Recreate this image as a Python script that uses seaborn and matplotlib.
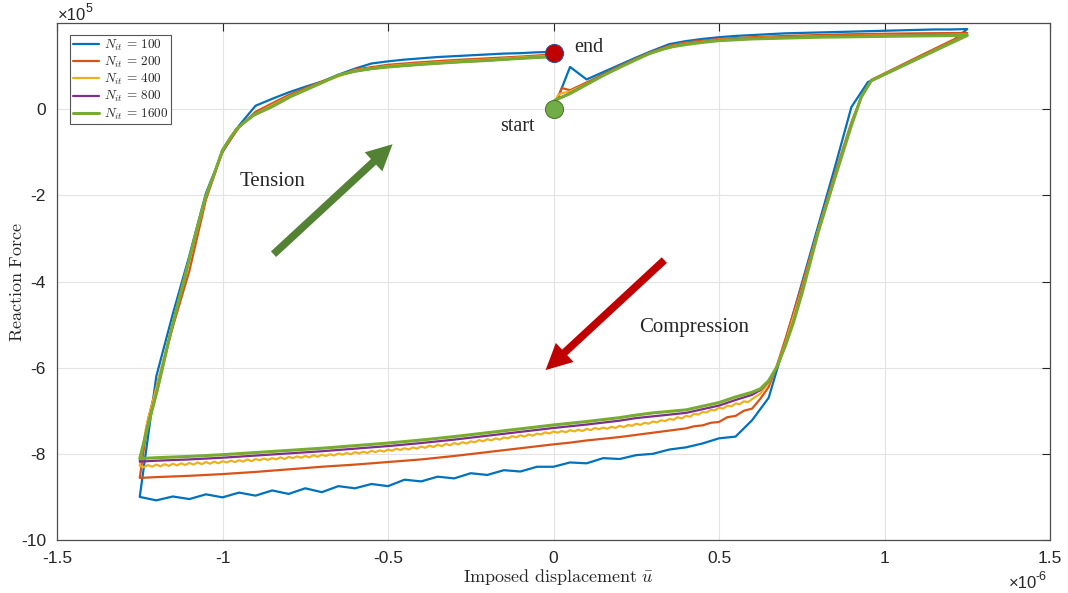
import matplotlib
matplotlib.use("Agg")
import matplotlib.pyplot as plt
from matplotlib.patches import FancyArrowPatch
import pandas as pd
import seaborn as sns

# Imposed displacement in units of 1e-6, reaction force in units of 1e5.
# Each path: loading 0 -> 1.25, unloading 1.25 -> -1.25, reloading -1.25 -> 0.

n100 = [
    (0.00, 0.00), (0.05, 0.98), (0.10, 0.69), (0.15, 0.86), (0.20, 1.03), (0.25, 1.20),
    (0.30, 1.36), (0.35, 1.51), (0.40, 1.58), (0.45, 1.63), (0.50, 1.67), (0.55, 1.70),
    (0.60, 1.72), (0.65, 1.74), (0.70, 1.76), (0.75, 1.77), (0.80, 1.78), (0.85, 1.79),
    (0.90, 1.80), (0.95, 1.81), (1.00, 1.82), (1.05, 1.83), (1.10, 1.84), (1.15, 1.85),
    (1.20, 1.85), (1.25, 1.86),
    (1.20, 1.54), (1.15, 1.36), (1.10, 1.17), (1.05, 0.99), (1.00, 0.81), (0.95, 0.63),
    (0.90, 0.05), (0.85, -1.35), (0.80, -2.70), (0.75, -4.05), (0.70, -5.40), (0.65, -6.70),
    (0.60, -7.22), (0.55, -7.60), (0.50, -7.64), (0.45, -7.76), (0.40, -7.85), (0.35, -7.90),
    (0.30, -8.00), (0.25, -8.03), (0.20, -8.12), (0.15, -8.10), (0.10, -8.22), (0.05, -8.20),
    (0.00, -8.30), (-0.05, -8.30), (-0.10, -8.41), (-0.15, -8.38), (-0.20, -8.49), (-0.25, -8.45),
    (-0.30, -8.57), (-0.35, -8.53), (-0.40, -8.64), (-0.45, -8.60), (-0.50, -8.75), (-0.55, -8.70),
    (-0.60, -8.80), (-0.65, -8.75), (-0.70, -8.89), (-0.75, -8.80), (-0.80, -8.93), (-0.85, -8.85),
    (-0.90, -8.97), (-0.95, -8.90), (-1.00, -9.01), (-1.05, -8.94), (-1.10, -9.05), (-1.15, -8.99),
    (-1.20, -9.08), (-1.25, -9.00),
    (-1.20, -6.20), (-1.15, -4.75), (-1.10, -3.40), (-1.05, -1.95), (-1.00, -1.00), (-0.95, -0.38),
    (-0.90, 0.08), (-0.85, 0.24), (-0.80, 0.39), (-0.75, 0.52), (-0.70, 0.64), (-0.65, 0.80),
    (-0.60, 0.94), (-0.55, 1.06), (-0.50, 1.11), (-0.45, 1.15), (-0.40, 1.18), (-0.35, 1.21),
    (-0.30, 1.23), (-0.25, 1.25), (-0.20, 1.27), (-0.15, 1.29), (-0.10, 1.30), (-0.05, 1.32),
    (0.00, 1.33),
]

n200 = [
    (0.000, 0.00), (0.025, 0.49), (0.050, 0.44), (0.10, 0.62), (0.15, 0.81), (0.20, 1.00),
    (0.25, 1.18), (0.30, 1.34), (0.35, 1.47), (0.40, 1.55), (0.50, 1.63), (0.60, 1.67),
    (0.70, 1.70), (0.80, 1.72), (0.90, 1.74), (1.00, 1.75), (1.10, 1.76), (1.25, 1.77),
    (1.10, 1.21), (0.96, 0.68), (0.93, 0.27), (0.90, -0.30), (0.85, -1.50), (0.80, -2.78),
    (0.75, -4.10), (0.70, -5.35), (0.675, -5.95), (0.65, -6.45), (0.625, -6.72), (0.60, -6.95),
    (0.575, -7.00), (0.55, -7.12), (0.525, -7.15), (0.50, -7.26), (0.475, -7.28), (0.45, -7.34),
    (0.425, -7.36), (0.40, -7.41), (0.35, -7.46), (0.30, -7.51), (0.25, -7.56), (0.20, -7.61),
    (0.15, -7.65), (0.10, -7.69), (0.05, -7.74), (0.00, -7.78), (-0.10, -7.87), (-0.20, -7.96),
    (-0.30, -8.05), (-0.40, -8.13), (-0.50, -8.19), (-0.60, -8.25), (-0.70, -8.30), (-0.80, -8.36),
    (-0.90, -8.42), (-1.00, -8.47), (-1.10, -8.51), (-1.20, -8.54), (-1.25, -8.56),
    (-1.225, -7.20), (-1.20, -6.45), (-1.15, -5.05), (-1.10, -3.75), (-1.05, -2.10), (-1.00, -0.98),
    (-0.95, -0.42), (-0.90, -0.06), (-0.80, 0.33), (-0.70, 0.64), (-0.60, 0.92), (-0.50, 1.03),
    (-0.40, 1.09), (-0.30, 1.14), (-0.20, 1.18), (-0.10, 1.22), (0.00, 1.27),
]

n400_load = [
    (0.0, 0.00), (0.0125, 0.32), (0.025, 0.37), (0.05, 0.41), (0.10, 0.59), (0.15, 0.80),
    (0.20, 0.99), (0.25, 1.17), (0.30, 1.32), (0.35, 1.45), (0.40, 1.52), (0.50, 1.61),
    (0.60, 1.65), (0.70, 1.67), (0.80, 1.69), (0.90, 1.70), (1.00, 1.71), (1.10, 1.72),
    (1.25, 1.73),
    (1.10, 1.18), (0.96, 0.67), (0.93, 0.28), (0.90, -0.33), (0.85, -1.55), (0.80, -2.80),
    (0.75, -4.20), (0.70, -5.45), (0.675, -5.97), (0.65, -6.35), (0.625, -6.60),
]
# plateau of the unloading branch, one entry per load step
n400_plateau = [
    (0.6000, -6.73), (0.5875, -6.80), (0.5750, -6.78), (0.5625, -6.85), (0.5500, -6.83),
    (0.5375, -6.90), (0.5250, -6.88), (0.5125, -6.95), (0.5000, -6.93),
    (0.4875, -6.99), (0.4750, -6.98), (0.4625, -7.04), (0.4500, -7.03),
    (0.4375, -7.09), (0.4250, -7.07), (0.4125, -7.14), (0.4000, -7.12),
    (0.3875, -7.18), (0.3750, -7.15), (0.3625, -7.21), (0.3500, -7.19),
    (0.3375, -7.24), (0.3250, -7.22), (0.3125, -7.27), (0.3000, -7.25),
    (0.2875, -7.30), (0.2750, -7.28), (0.2625, -7.33), (0.2500, -7.30),
    (0.2375, -7.35), (0.2250, -7.33), (0.2125, -7.38), (0.2000, -7.35),
    (0.1875, -7.40), (0.1750, -7.37), (0.1625, -7.42), (0.1500, -7.39),
    (0.1375, -7.43), (0.1250, -7.40), (0.1125, -7.45), (0.1000, -7.42),
    (0.0875, -7.47), (0.0750, -7.44), (0.0625, -7.48), (0.0500, -7.45),
    (0.0375, -7.50), (0.0250, -7.47), (0.0125, -7.51), (0.0000, -7.48),
    (-0.0125, -7.53), (-0.0250, -7.50), (-0.0375, -7.55), (-0.0500, -7.53),
    (-0.0625, -7.58), (-0.0750, -7.55), (-0.0875, -7.60), (-0.1000, -7.57),
    (-0.1125, -7.62), (-0.1250, -7.59), (-0.1375, -7.64), (-0.1500, -7.62),
    (-0.1625, -7.67), (-0.1750, -7.64), (-0.1875, -7.69), (-0.2000, -7.66),
    (-0.2125, -7.71), (-0.2250, -7.68), (-0.2375, -7.73), (-0.2500, -7.71),
    (-0.2625, -7.76), (-0.2750, -7.73), (-0.2875, -7.78), (-0.3000, -7.75),
    (-0.3125, -7.80), (-0.3250, -7.77), (-0.3375, -7.82), (-0.3500, -7.79),
    (-0.3625, -7.84), (-0.3750, -7.81), (-0.3875, -7.86), (-0.4000, -7.83),
    (-0.4125, -7.88), (-0.4250, -7.85), (-0.4375, -7.90), (-0.4500, -7.87),
    (-0.4625, -7.91), (-0.4750, -7.88), (-0.4875, -7.93), (-0.5000, -7.90),
    (-0.5125, -7.95), (-0.5250, -7.92), (-0.5375, -7.96), (-0.5500, -7.93),
    (-0.5625, -7.98), (-0.5750, -7.95), (-0.5875, -7.99), (-0.6000, -7.96),
    (-0.6125, -8.01), (-0.6250, -7.98), (-0.6375, -8.02), (-0.6500, -7.99),
    (-0.6625, -8.04), (-0.6750, -8.01), (-0.6875, -8.05), (-0.7000, -8.02),
    (-0.7125, -8.07), (-0.7250, -8.03), (-0.7375, -8.08), (-0.7500, -8.05),
    (-0.7625, -8.09), (-0.7750, -8.06), (-0.7875, -8.10), (-0.8000, -8.07),
    (-0.8125, -8.12), (-0.8250, -8.08), (-0.8375, -8.13), (-0.8500, -8.10),
    (-0.8625, -8.14), (-0.8750, -8.11), (-0.8875, -8.15), (-0.9000, -8.12),
    (-0.9125, -8.17), (-0.9250, -8.13), (-0.9375, -8.18), (-0.9500, -8.15),
    (-0.9625, -8.19), (-0.9750, -8.16), (-0.9875, -8.20), (-1.0000, -8.17),
    (-1.0125, -8.22), (-1.0250, -8.18), (-1.0375, -8.23), (-1.0500, -8.19),
    (-1.0625, -8.24), (-1.0750, -8.20), (-1.0875, -8.25), (-1.1000, -8.21),
    (-1.1125, -8.26), (-1.1250, -8.22), (-1.1375, -8.27), (-1.1500, -8.23),
    (-1.1625, -8.28), (-1.1750, -8.24), (-1.1875, -8.29), (-1.2000, -8.25),
    (-1.2125, -8.30), (-1.2250, -8.26), (-1.2375, -8.31), (-1.2500, -8.28),
]
n400_reload = [
    (-1.230, -7.35), (-1.20, -6.48), (-1.16, -5.25), (-1.12, -4.05), (-1.08, -2.90),
    (-1.05, -2.03), (-1.00, -0.96), (-0.96, -0.47), (-0.90, -0.11), (-0.80, 0.29),
    (-0.70, 0.62), (-0.60, 0.90), (-0.50, 1.00), (-0.40, 1.06), (-0.30, 1.11),
    (-0.20, 1.15), (-0.10, 1.20), (0.00, 1.24),
]
n400 = n400_load + n400_plateau + n400_reload

n800 = [
    (0.0, 0.00), (0.006, 0.22), (0.05, 0.37), (0.10, 0.58), (0.15, 0.80), (0.20, 0.99),
    (0.25, 1.17), (0.30, 1.32), (0.35, 1.44), (0.40, 1.51), (0.50, 1.60), (0.60, 1.64),
    (0.70, 1.66), (0.80, 1.68), (0.90, 1.69), (1.00, 1.70), (1.10, 1.71), (1.25, 1.72),
    (1.10, 1.17), (0.96, 0.66), (0.93, 0.29), (0.90, -0.36), (0.85, -1.58), (0.80, -2.83),
    (0.75, -4.25), (0.725, -4.93), (0.70, -5.50), (0.675, -5.98), (0.65, -6.32), (0.625, -6.52),
    (0.60, -6.63), (0.55, -6.75), (0.50, -6.88), (0.40, -7.05), (0.30, -7.13), (0.25, -7.17),
    (0.20, -7.23), (0.10, -7.32), (0.00, -7.40), (-0.10, -7.49), (-0.20, -7.58), (-0.30, -7.67),
    (-0.40, -7.75), (-0.50, -7.82), (-0.60, -7.88), (-0.70, -7.94), (-0.80, -7.99), (-0.90, -8.04),
    (-1.00, -8.09), (-1.10, -8.13), (-1.20, -8.16), (-1.25, -8.18),
    (-1.228, -7.40), (-1.197, -6.52), (-1.157, -5.20), (-1.117, -4.00), (-1.081, -2.88),
    (-1.051, -2.03), (-1.025, -1.50), (-1.00, -0.95), (-0.975, -0.65), (-0.956, -0.45),
    (-0.93, -0.28), (-0.906, -0.14), (-0.85, 0.06), (-0.795, 0.29), (-0.704, 0.60),
    (-0.65, 0.79), (-0.60, 0.88), (-0.55, 0.94), (-0.50, 0.98), (-0.40, 1.04), (-0.30, 1.09),
    (-0.20, 1.13), (-0.10, 1.18), (0.00, 1.22),
]

n1600 = [
    (0.0, 0.00), (0.003, 0.20), (0.05, 0.36), (0.10, 0.57), (0.15, 0.78), (0.20, 0.97),
    (0.25, 1.15), (0.29, 1.29), (0.33, 1.39), (0.36, 1.45), (0.40, 1.50), (0.45, 1.55),
    (0.50, 1.59), (0.60, 1.63), (0.70, 1.65), (0.80, 1.67), (0.90, 1.68), (1.00, 1.69),
    (1.10, 1.70), (1.25, 1.71),
    (1.10, 1.17), (0.96, 0.66), (0.93, 0.29), (0.90, -0.38), (0.85, -1.60), (0.80, -2.85),
    (0.75, -4.30), (0.725, -4.95), (0.70, -5.50), (0.675, -5.98), (0.65, -6.30), (0.625, -6.49),
    (0.60, -6.57), (0.55, -6.68), (0.50, -6.81), (0.40, -6.98), (0.30, -7.05), (0.25, -7.10),
    (0.20, -7.16), (0.10, -7.25), (0.00, -7.33), (-0.10, -7.42), (-0.20, -7.51), (-0.30, -7.60),
    (-0.40, -7.68), (-0.50, -7.75), (-0.60, -7.81), (-0.70, -7.87), (-0.80, -7.92), (-0.90, -7.97),
    (-1.00, -8.02), (-1.10, -8.06), (-1.20, -8.09), (-1.25, -8.11),
    (-1.227, -7.41), (-1.197, -6.52), (-1.157, -5.20), (-1.117, -4.00), (-1.081, -2.88),
    (-1.051, -2.03), (-1.025, -1.50), (-1.00, -0.95), (-0.975, -0.65), (-0.956, -0.45),
    (-0.93, -0.28), (-0.906, -0.14), (-0.85, 0.06), (-0.795, 0.29), (-0.704, 0.60),
    (-0.65, 0.79), (-0.60, 0.88), (-0.55, 0.94), (-0.50, 0.98), (-0.40, 1.04), (-0.30, 1.09),
    (-0.20, 1.13), (-0.10, 1.18), (0.00, 1.22),
]

series = [n100, n200, n400, n800, n1600]
iterations = [100, 200, 400, 800, 1600]
colors = ["#0072BD", "#D95319", "#EDB120", "#7E2F8E", "#77AC30"]
widths = [1.6, 1.6, 1.6, 1.6, 2.2]

start_point = (0.0, 0.0)
end_point = (0.0, 1.31)

x_ticks = [-1.5, -1.0, -0.5, 0.0, 0.5, 1.0, 1.5]
x_tick_labels = ["-1.5", "-1", "-0.5", "0", "0.5", "1", "1.5"]
y_ticks = [-10, -8, -6, -4, -2, 0]
y_tick_labels = ["-10", "-8", "-6", "-4", "-2", "0"]

sns.set_theme(style="white")
plt.rcParams["font.family"] = ["Liberation Sans", "DejaVu Sans"]
plt.rcParams["mathtext.fontset"] = "cm"
plt.rcParams["axes.unicode_minus"] = False

fig = plt.figure(figsize=(10.68, 5.93), dpi=100)
fig.patch.set_facecolor("white")
ax = fig.add_axes([57 / 1068, 53 / 593, 993 / 1068, 517 / 593])

for pts, n, col, lw in zip(series, iterations, colors, widths):
    df = pd.DataFrame(pts, columns=["u", "F"])
    sns.lineplot(data=df, x="u", y="F", sort=False, estimator=None, color=col,
                 linewidth=lw, label=rf"$N_{{it}}\, =\, {n}$", ax=ax)

ax.set_xlim(-1.5, 1.5)
ax.set_ylim(-10, 2.0)
ax.set_xticks(x_ticks)
ax.set_xticklabels(x_tick_labels)
ax.set_yticks(y_ticks)
ax.set_yticklabels(y_tick_labels)
ax.grid(True, color="#e3e3e3", linewidth=0.8)
ax.set_axisbelow(True)
ax.tick_params(direction="in", length=6, width=0.8, top=True, right=True,
               labelsize=12.5, colors="#262626", pad=8)
for s in ax.spines.values():
    s.set_color("#4d4d4d")
    s.set_linewidth(0.9)

ax.set_xlabel(r"$\mathrm{Imposed\ displacement}\ \bar{u}$", fontsize=13, color="#262626")
ax.set_ylabel(r"$\mathrm{Reaction\ Force}$", fontsize=13, color="#262626")
ax.xaxis.set_label_coords(0.505, -0.053)
ax.yaxis.set_label_coords(-0.031, 0.5)

fig.text(58 / 1068, 1 - 15 / 593, "×10", fontsize=12, color="#262626", va="center", ha="left")
fig.text(86 / 1068, 1 - 9 / 593, "5", fontsize=9, color="#262626", va="center", ha="left")
fig.text(1009 / 1068, 1 - 583 / 593, "×10", fontsize=12, color="#262626", va="center", ha="left")
fig.text(1036 / 1068, 1 - 577 / 593, "-6", fontsize=9, color="#262626", va="center", ha="left")

leg = ax.legend(loc="upper left", bbox_to_anchor=(0.013, 0.977), borderaxespad=0,
                fontsize=9.5, frameon=True, fancybox=False, framealpha=1,
                edgecolor="#555555", handlelength=2.0, handletextpad=0.35,
                labelspacing=0.15, borderpad=0.2)
leg.get_frame().set_linewidth(0.8)

# start / end markers
ax.plot(*start_point, "o", ms=13, mfc="#70AD47", mec="#4E7A2F", mew=0.8, zorder=6)
ax.plot(*end_point, "o", ms=13, mfc="#C00000", mec="#2F5597", mew=0.8, zorder=6)

serif = ["Liberation Serif", "DejaVu Serif"]
ax.text(0.063, 1.44, "end", fontsize=14.5, family=serif, va="center", ha="left")
ax.text(-0.161, -0.41, "start", fontsize=14.5, family=serif, va="center", ha="left")
ax.text(-0.949, -1.67, "Tension", fontsize=15, family=serif, va="center", ha="left")
ax.text(0.26, -5.06, "Compression", fontsize=15, family=serif, va="center", ha="left")

arrow_style = "simple,head_width=1.7,head_length=1.7,tail_width=0.5"
ax.add_patch(FancyArrowPatch((-0.852, -3.41), (-0.480, -0.77), arrowstyle=arrow_style,
                             mutation_scale=11, color="#548235", lw=0, zorder=5))
ax.add_patch(FancyArrowPatch((0.341, -3.46), (-0.030, -6.10), arrowstyle=arrow_style,
                             mutation_scale=11, color="#C00000", lw=0, zorder=5))

fig.savefig("out.png", dpi=100)
